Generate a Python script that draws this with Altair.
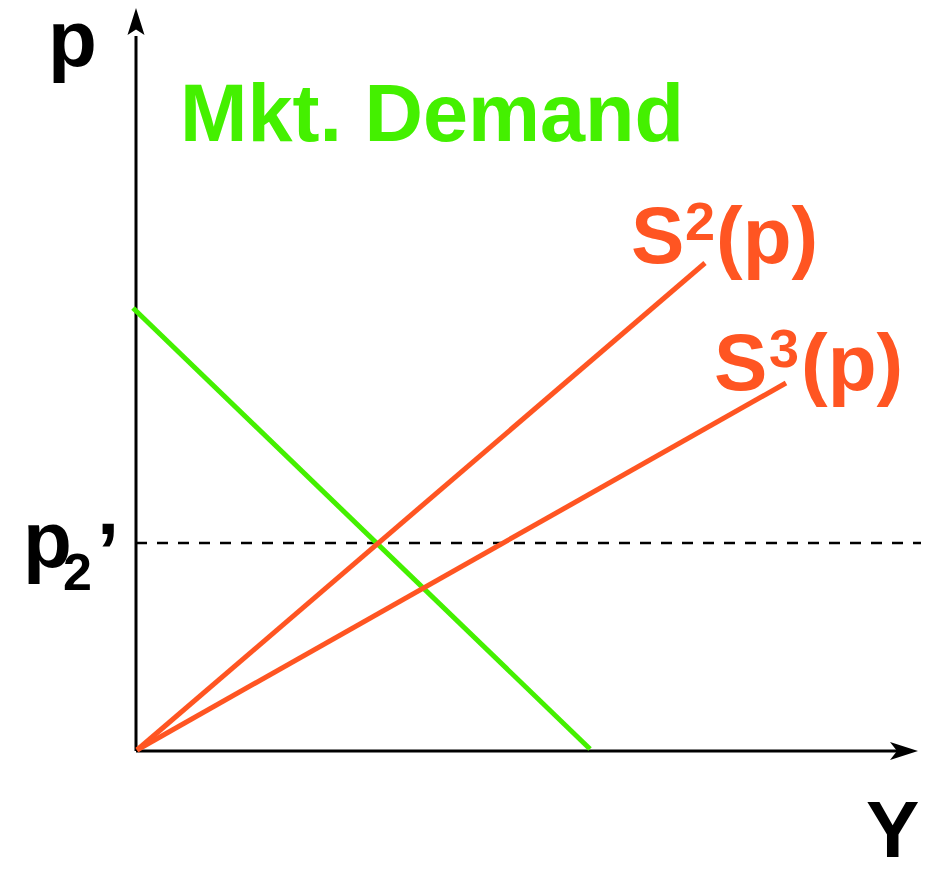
import altair as alt
import pandas as pd

# ---- data (Y = quantity, p = price, chart units) ----
demand_Y = [-0.3, 45.4]
demand_p = [44.3, 0.2]
s2_Y = [0.1, 56.9]
s2_p = [0.1, 48.8]
s3_Y = [0.1, 65.0]
s3_p = [0.1, 36.8]
p2_level = 20.8
dash_Y = [0.0, 79.3]

axis_x_Y = [0.0, 76.5]
axis_y_p = [0.0, 71.5]
arrow_up = (0.0, 72.95)
arrow_right = (76.8, 0.0)

# annotations: text, Y, p
big_black = [("p", -8.8, 68.5), ("p", -11.3, 18.45), ("Y", 73.0, -10.6)]
small_black = [("2", -7.3, 16.1)]
quote_black = [("\u2019", -3.9, 17.2)]
big_green = [("Mkt. Demand", 4.4, 61.0)]
big_orange = [("S", 49.5, 48.8), ("(p)", 58.0, 48.8), ("S", 57.8, 36.1), ("(p)", 66.5, 36.1)]
small_orange = [("2", 54.9, 51.1), ("3", 63.3, 38.4)]

GREEN = "#44F000"
ORANGE = "#FF5522"
FONT = "Liberation Sans"

xs = alt.Scale(domain=[-12.8, 78.5], nice=False, zero=False)
ys = alt.Scale(domain=[-10.7, 74.3], nice=False, zero=False)


def X(f="Y"):
    return alt.X(f"{f}:Q", scale=xs, axis=None)


def Yc(f="p"):
    return alt.Y(f"{f}:Q", scale=ys, axis=None)


def seg(Ys, ps, name):
    return pd.DataFrame({"Y": Ys, "p": ps, "s": [name] * len(Ys), "o": list(range(len(Ys)))})


curves = pd.concat([
    seg(demand_Y, demand_p, "D"),
    seg(s2_Y, s2_p, "S2"),
    seg(s3_Y, s3_p, "S3"),
])
axes_df = pd.concat([
    seg(axis_x_Y, [0.0, 0.0], "xa"),
    seg([0.0, 0.0], axis_y_p, "ya"),
])
dash_df = seg(dash_Y, [p2_level, p2_level], "dash")

axes_layer = alt.Chart(axes_df).mark_line(color="black", strokeWidth=3, strokeCap="butt").encode(
    x=X(), y=Yc(), detail="s:N", order="o:Q")

dash_layer = alt.Chart(dash_df).mark_line(color="black", strokeWidth=2.5, strokeDash=[11, 10]).encode(
    x=X(), y=Yc(), detail="s:N", order="o:Q")

curve_layer = alt.Chart(curves).mark_line(strokeWidth=5, strokeCap="butt").encode(
    x=X(), y=Yc(), detail="s:N", order="o:Q",
    color=alt.Color("s:N", scale=alt.Scale(domain=["D", "S2", "S3"], range=[GREEN, ORANGE, ORANGE]), legend=None))

up_df = pd.DataFrame({"Y": [arrow_up[0]], "p": [arrow_up[1]]})
right_df = pd.DataFrame({"Y": [arrow_right[0]], "p": [arrow_right[1]]})
up_layer = alt.Chart(up_df).mark_point(
    shape="M0,-1 L0.63,1 L0,0.6 L-0.63,1 Z", filled=True, color="black", opacity=1, size=729, strokeWidth=0
).encode(x=X(), y=Yc())
right_layer = alt.Chart(right_df).mark_point(
    shape="M1,0 L-1,0.64 L-0.5,0 L-1,-0.64 Z", filled=True, color="black", opacity=1, size=784, strokeWidth=0
).encode(x=X(), y=Yc())


def text_layer(items, size, color):
    df = pd.DataFrame(items, columns=["t", "Y", "p"])
    return alt.Chart(df).mark_text(
        align="left", baseline="alphabetic", font=FONT, fontWeight="bold", fontSize=size, color=color
    ).encode(x=X(), y=Yc(), text="t:N")


chart = alt.layer(
    dash_layer,
    axes_layer,
    up_layer,
    right_layer,
    curve_layer,
    text_layer(big_black, 80, "black"),
    text_layer(small_black, 52, "black"),
    text_layer(quote_black, 80, "black"),
    text_layer(big_green, 81, GREEN),
    text_layer(big_orange, 80, ORANGE),
    text_layer(small_orange, 54, ORANGE),
).properties(width=913, height=850, padding=0, autosize="none").configure_view(stroke=None)

chart.save("out.html", embed_options={"renderer": "svg", "actions": False})
